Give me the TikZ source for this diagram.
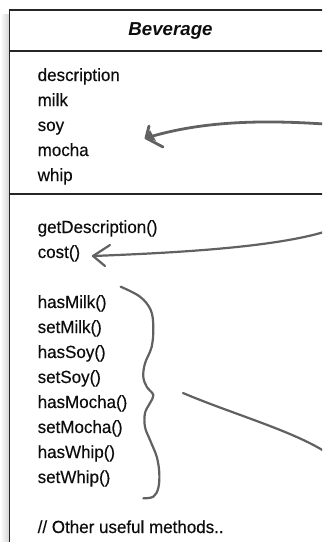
\documentclass[tikz,border=0pt]{standalone}
\usepackage{fontspec}
\setmainfont{Liberation Sans}
\newfontfamily\bodyfont[FakeStretch=0.965, FakeBold=0.25]{Liberation Sans}
\begin{document}
\begin{tikzpicture}[x=1pt,y=-1pt,
  boxline/.style={line width=1.4pt, draw=black!85},
  item/.style={anchor=base west, inner sep=0pt, font=\bodyfont\fontsize{17.6}{19}\selectfont, text=black!95},
  title/.style={anchor=base, inner sep=0pt, font=\fontsize{18.7}{20}\selectfont\bfseries\itshape, text=black!95},
  scribble/.style={draw=black!62, line width=2.2pt, line cap=round, line join=round},
  thick scribble/.style={scribble, line width=2.8pt}]
\useasboundingbox (0,0) rectangle (322,542);
\clip (0,0) rectangle (322,542);
% shadow
\shade[left color=white, right color=black!18] (0,14) rectangle (9.5,542);
% box
\fill[white] (9.5,10) rectangle (330,550);
\draw[boxline] (9.5,550) -- (9.5,10) -- (330,10);
\draw[boxline] (9.5,51) -- (330,51);
\draw[boxline] (9.5,194) -- (330,194);
% title
\node[title] (ttl) at (170.5,35) {Beverage};
% attributes
\node[item] (description) at (37.5,81) {description};
\node[item] (milk) at (37.5,106) {milk};
\node[item] (soy) at (37.5,131) {soy};
\node[item] (mocha) at (37.5,156) {mocha};
\node[item] (whip) at (37.5,181) {whip};
% methods
\node[item] (getdesc) at (37.5,233) {getDescription()};
\node[item] (cost) at (37.5,258) {cost()};
\node[item] (hasmilk) at (37.5,308) {hasMilk()};
\node[item] (setmilk) at (37.5,333) {setMilk()};
\node[item] (hassoy) at (37.5,358) {hasSoy()};
\node[item] (setsoy) at (37.5,383) {setSoy()};
\node[item] (hasmocha) at (37.5,408) {hasMocha()};
\node[item] (setmocha) at (37.5,433) {setMocha()};
\node[item] (haswhip) at (37.5,458) {hasWhip()};
\node[item] (setwhip) at (37.5,483) {setWhip()};
\node[item] (other) at (37.5,533) {// Other useful methods..};
% arrow 1
\coordinate (a1s) at (324,124);
\coordinate (a1t) at (146,138);
\draw[thick scribble] (a1s) .. controls (250,119) and (195,123) .. (a1t);
\draw[thick scribble] (149,126) -- (a1t) -- (163,147);
\fill[black!62] (146,138) -- (150,130) -- (156,141) -- cycle;
% arrow 2
\coordinate (a2s) at (324,232);
\coordinate (a2t) at (93,256);
\draw[scribble] (a2s) .. controls (270,248) and (170,253) .. (a2t);
\draw[scribble] (110,245) -- (a2t) -- (105,266);
% brace
\draw[scribble] plot[smooth, tension=0.6] coordinates {
  (120.7,286.7) (140,296.7) (150.7,310) (153.3,326.7) (151.7,346.7) (145,363.3)
  (143.3,376.7) (146.7,386.7) (153.3,395) (150,403) (145,413) (145,427)
  (150,440) (156.7,456.7) (159.3,473) (158.3,488) (153.3,496.7) (143.3,498.3)};
% line
\coordinate (ls) at (183,393);
\coordinate (le) at (324,451);
\draw[scribble] (ls) .. controls (230,413) and (290,430) .. (le);
\end{tikzpicture}
\end{document}
